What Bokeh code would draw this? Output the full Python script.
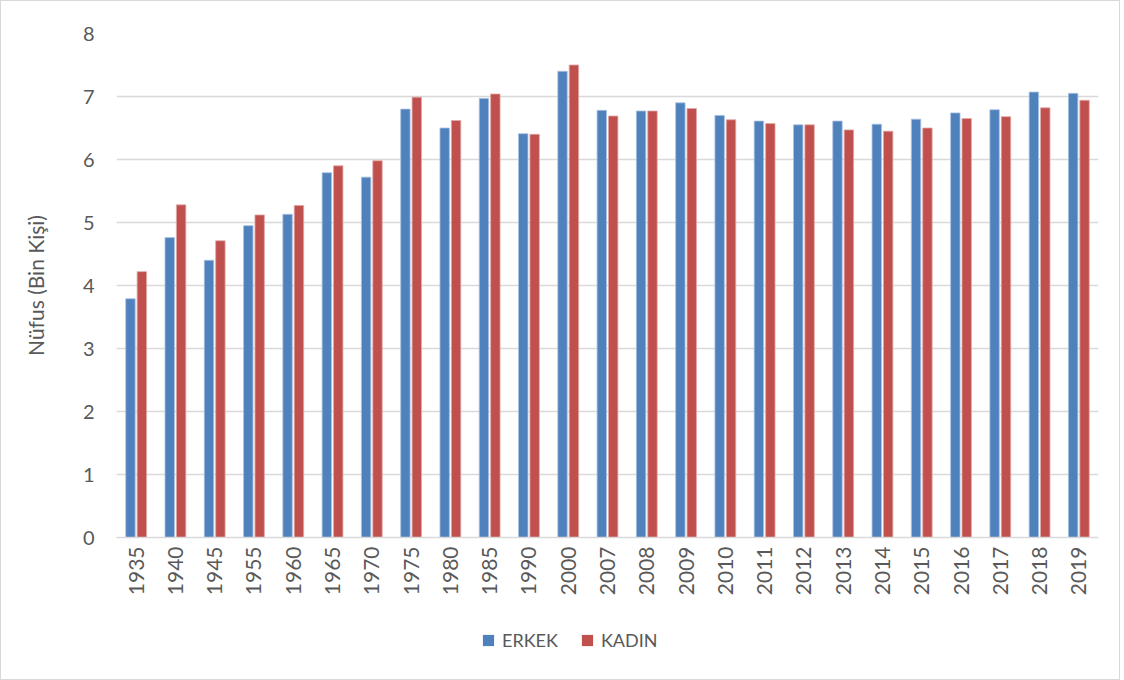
from bokeh.plotting import figure
from bokeh.models import ColumnDataSource, FactorRange, Range1d, Legend, LegendItem, FixedTicker
from bokeh.transform import dodge
from bokeh.layouts import column
from bokeh.embed import file_html
from bokeh.resources import INLINE
import math

years = ["1935", "1940", "1945", "1955", "1960", "1965", "1970", "1975", "1980", "1985",
         "1990", "2000", "2007", "2008", "2009", "2010", "2011", "2012", "2013", "2014",
         "2015", "2016", "2017", "2018", "2019"]
erkek = [3.79, 4.76, 4.40, 4.95, 5.13, 5.79, 5.72, 6.80, 6.50, 6.97,
         6.41, 7.40, 6.78, 6.77, 6.90, 6.70, 6.61, 6.55, 6.61, 6.56,
         6.64, 6.74, 6.79, 7.07, 7.05]
kadin = [4.22, 5.28, 4.71, 5.12, 5.27, 5.90, 5.98, 6.99, 6.62, 7.04,
         6.40, 7.50, 6.69, 6.77, 6.81, 6.63, 6.57, 6.55, 6.47, 6.45,
         6.50, 6.65, 6.68, 6.82, 6.94]
y_ticks = [0, 1, 2, 3, 4, 5, 6, 7, 8]
series_names = ["ERKEK", "KADIN"]

FONT = "Lato"
TXT = "#595959"
BLUE = "#4F81BD"
RED = "#C0504D"

src = ColumnDataSource(dict(year=years, erkek=erkek, kadin=kadin))

p = figure(width=1118, height=610, x_range=FactorRange(*years), y_range=Range1d(0, 8),
           output_backend="svg", toolbar_location=None,
           min_border_left=115, min_border_right=21, min_border_top=32, min_border_bottom=74)
p.x_range.range_padding = 0
p.outline_line_color = None

p.vbar(x=dodge("year", -0.145, range=p.x_range), top="erkek", width=0.24, source=src,
       fill_color=BLUE, line_color="#A9C1E0", line_width=0.8)
p.vbar(x=dodge("year", 0.145, range=p.x_range), top="kadin", width=0.24, source=src,
       fill_color=RED, line_color="#E0A8A6", line_width=0.8)

p.xgrid.grid_line_color = None
p.ygrid.grid_line_color = "#D9D9D9"
p.ygrid.grid_line_width = 1.5
p.yaxis.ticker = FixedTicker(ticks=y_ticks)

p.yaxis.axis_line_color = None
p.yaxis.major_tick_line_color = None
p.yaxis.minor_tick_line_color = None
p.yaxis.major_tick_out = 0
p.yaxis.minor_tick_out = 0
p.yaxis.major_label_text_font = FONT
p.yaxis.major_label_text_font_size = "20px"
p.yaxis.major_label_text_color = TXT
p.yaxis.major_label_standoff = 22
p.yaxis.axis_label = "Nüfus (Bin Kişi)"
p.yaxis.axis_label_text_font = FONT
p.yaxis.axis_label_text_font_size = "21px"
p.yaxis.axis_label_text_font_style = "normal"
p.yaxis.axis_label_text_color = TXT
p.yaxis.axis_label_standoff = 32

p.xaxis.axis_line_color = "#D9D9D9"
p.xaxis.axis_line_width = 1.5
p.xaxis.major_tick_line_color = None
p.xaxis.minor_tick_line_color = None
p.xaxis.major_tick_out = 0
p.xaxis.minor_tick_out = 0
p.xaxis.major_label_orientation = math.pi / 2
p.xaxis.major_label_text_font = FONT
p.xaxis.major_label_text_font_size = "21px"
p.xaxis.major_label_text_color = TXT
p.xaxis.major_label_standoff = 9

# legend strip below the chart (swatch glyphs sit outside the visible range)
lf = figure(width=1118, height=68, x_range=Range1d(0, 1), y_range=Range1d(0, 1),
            output_backend="svg", toolbar_location=None,
            min_border_left=0, min_border_right=0, min_border_top=0, min_border_bottom=0)
lf.axis.visible = False
lf.grid.visible = False
lf.outline_line_color = None
lsrc = ColumnDataSource(dict(x=[-5.0], y=[-5.0]))
gb = lf.rect(x="x", y="y", width=0.1, height=0.1, source=lsrc, fill_color=BLUE, line_color=None)
gr = lf.rect(x="x", y="y", width=0.1, height=0.1, source=lsrc, fill_color=RED, line_color=None)
legend = Legend(items=[LegendItem(label=series_names[0], renderers=[gb]),
                       LegendItem(label=series_names[1], renderers=[gr])],
                orientation="horizontal", location=(365, 28))
legend.border_line_color = None
legend.background_fill_alpha = 0
legend.padding = 0
legend.margin = 0
legend.spacing = 22
legend.glyph_width = 14
legend.glyph_height = 14
legend.label_standoff = 7
legend.label_text_font = FONT
legend.label_text_font_size = "18px"
legend.label_text_color = TXT
lf.add_layout(legend)

layout = column(p, lf, spacing=0)
layout.styles = {"border": "1px solid #D9D9D9"}

open("out.html", "w").write(file_html(layout, INLINE))
